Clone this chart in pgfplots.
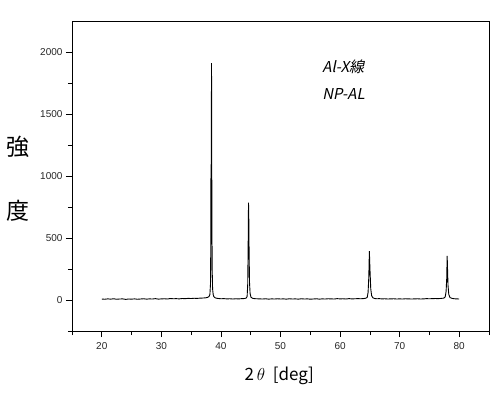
\documentclass[border=0pt]{standalone}
\usepackage{fontspec}
\setmainfont{Liberation Sans}
\newfontfamily\cjk{Noto Sans CJK JP}
\newfontfamily\cjkit{Noto Sans CJK JP}[FakeSlant=0.2]
\usepackage{pgfplots}
\pgfplotsset{compat=1.18}
\pgfplotstableread{
x y
20.0 8
20.5 6
21.0 9
21.5 7
22.0 10
22.5 6
23.0 8
23.5 9
24.0 5
24.5 8
25.0 7
25.5 9
26.0 6
26.5 8
27.0 10
27.5 7
28.0 9
28.5 8
29.0 11
29.5 7
30.0 9
30.5 10
31.0 8
31.5 12
32.0 10
32.5 11
33.0 9
33.5 12
34.0 11
34.5 13
35.0 12
35.5 14
36.0 13
36.5 15
37.0 16
37.5 18
37.8 22
38.0 28
38.15 45
38.25 130
38.3 450
38.33 1090
38.38 1090
38.42 1910
38.45 1350
38.48 700
38.53 250
38.6 90
38.7 45
38.8 28
39.0 18
39.3 14
39.6 12
40.0 10
40.5 11
41.0 9
41.5 10
42.0 8
42.5 10
43.0 9
43.5 11
44.0 12
44.25 16
44.4 30
44.5 130
44.57 430
44.63 785
44.68 650
44.73 380
44.8 140
44.9 50
45.05 22
45.3 14
45.6 11
46.0 10
46.5 9
47.0 8
47.5 10
48.0 7
48.5 9
49.0 8
49.5 10
50.0 8
50.5 9
51.0 7
51.5 10
52.0 8
52.5 9
53.0 7
53.5 10
54.0 8
54.5 9
55.0 7
55.5 8
56.0 10
56.5 7
57.0 9
57.5 8
58.0 10
58.5 9
59.0 8
59.5 11
60.0 9
60.5 10
61.0 8
61.5 11
62.0 9
62.5 10
63.0 11
63.5 10
64.0 12
64.3 14
64.55 20
64.7 60
64.82 180
64.92 395
64.98 300
65.04 220
65.15 90
65.3 35
65.5 18
65.8 12
66.2 10
66.6 11
67.0 9
67.5 10
68.0 8
68.5 9
69.0 10
69.5 8
70.0 9
70.5 8
71.0 10
71.5 9
72.0 8
72.5 9
73.0 10
73.5 8
74.0 9
74.5 11
75.0 10
75.5 11
76.0 12
76.5 11
77.0 13
77.4 15
77.65 25
77.8 70
77.9 170
77.98 355
78.04 250
78.12 120
78.25 45
78.45 20
78.8 13
79.2 10
79.6 9
80.0 8
}\xrdtable
\begin{document}
\begin{tikzpicture}
\begin{axis}[
  scale only axis,
  width=417pt, height=310pt,
  xmin=15, xmax=85, ymin=-250, ymax=2250,
  xtick={20,30,...,80},
  minor xtick={15,25,...,85},
  ytick={0,500,...,2000},
  minor ytick={-250,250,750,1250,1750},
  tick pos=left,
  tick align=outside,
  major tick length=6pt,
  minor tick length=4pt,
  axis line style={line width=0.9pt},
  every tick/.style={black, line width=0.7pt},
  tick label style={font=\fontsize{10}{12}\selectfont, color=black!85},
  /pgf/number format/assume math mode=true,
  /pgf/number format/1000 sep={},
  xticklabel style={yshift=-2pt},
  xlabel={\cjk 2\,$\theta$\ \ [deg]},
  xlabel style={font=\fontsize{17}{19}\selectfont, at={(axis description cs:0.497,-0.145)}, anchor=center},
  ylabel={\cjk 強\\\cjk 度},
  ylabel style={font=\fontsize{23}{64}\selectfont, align=center, rotate=-90, at={(axis description cs:-0.13,0.49)}, anchor=center},
]
\addplot[black, line width=0.9pt] table[x=x, y=y] {\xrdtable};
\node[anchor=west, inner sep=0pt, font=\fontsize{15}{17}\selectfont\cjkit] at (axis cs:57.0,1880) {Al-X線};
\node[anchor=west, inner sep=0pt, font=\fontsize{15}{17}\selectfont\cjkit] at (axis cs:57.0,1665) {NP-AL};
\end{axis}
\path[use as bounding box] ([shift={(-72pt,-65pt)}]current axis.south west) rectangle ([shift={(13pt,21pt)}]current axis.north east);
\end{tikzpicture}
\end{document}
